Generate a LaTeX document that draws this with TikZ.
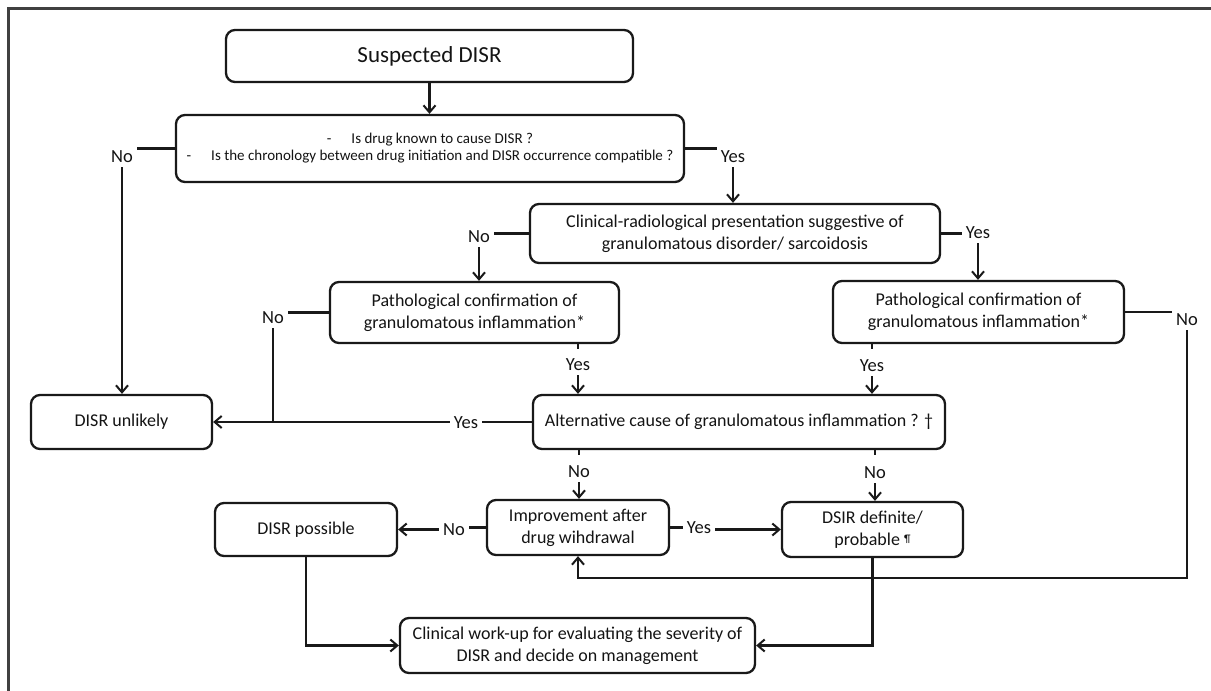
\documentclass[tikz,border=0pt]{standalone}
\usepackage{fontspec}
\setmainfont{Carlito}
\usetikzlibrary{arrows.meta}
\begin{document}
\begin{tikzpicture}[x=1pt,y=-1pt,
  box/.style={draw=black!90, line width=2.3pt, rounded corners=9pt, fill=white, align=center, inner sep=0pt, text=black!92, font=\fontsize{18}{22}\selectfont},
  lab/.style={inner sep=4pt, text=black!92, font=\fontsize{18.5}{20}\selectfont},
  ln/.style={draw=black!90, line width=2.2pt},
  arr/.style={ln, -{Straight Barb[length=7pt,width=12pt,line width=2pt]}}]
\useasboundingbox (0,0) rectangle (1211,691);
\fill[white] (0,0) rectangle (1211,691);
\draw[line width=3pt, black!75] (8,691) -- (8,8) -- (1211,8);

% boxes
\node[box, minimum width=407pt, minimum height=52pt, font=\fontsize{23}{27}\selectfont] (susp) at (429.5,56) {Suspected DISR};
\node[box, minimum width=508pt, minimum height=67pt, font=\fontsize{15}{17}\selectfont] (q) at (430,148.5) {-\hspace{20pt}Is drug known to cause DISR ?\\ -\hspace{20pt}Is the chronology between drug initiation and DISR occurrence compatible ?};
\node[box, minimum width=410pt, minimum height=59pt] (clin) at (735,233.5) {Clinical-radiological presentation suggestive of\\ granulomatous disorder/ sarcoidosis};
\node[box, minimum width=289pt, minimum height=61pt] (path1) at (474.5,312.5) {Pathological confirmation of\\ granulomatous inflammation*};
\node[box, minimum width=291pt, minimum height=62pt] (path2) at (978.5,312) {Pathological confirmation of\\ granulomatous inflammation*};
\node[box, minimum width=181pt, minimum height=54pt] (unl) at (121.5,422) {DISR unlikely};
\node[box, minimum width=412pt, minimum height=54pt] (alt) at (739,422) {Alternative cause of granulomatous inflammation ? †};
\node[box, minimum width=182pt, minimum height=53pt] (poss) at (306,529.5) {DISR possible};
\node[box, minimum width=182pt, minimum height=55pt] (imp) at (578,527.5) {Improvement after\\ drug wihdrawal};
\node[box, minimum width=181pt, minimum height=55pt] (dsir) at (872.5,529.5) {DSIR definite/\\ probable \raisebox{3pt}{\fontsize{11}{11}\selectfont ¶}};
\node[box, minimum width=355pt, minimum height=55pt] (work) at (577.5,645.5) {Clinical work-up for evaluating the severity of\\ DISR and decide on management};

% labels
\node[lab] (noA) at (122,157) {No};
\node[lab] (yesA) at (733,157) {Yes};
\node[lab] (noB) at (479,237) {No};
\node[lab] (yesB) at (978,233) {Yes};
\node[lab] (noC) at (273,318) {No};
\node[lab] (yesC) at (578,365) {Yes};
\node[lab] (noD) at (1187,320) {No};
\node[lab] (yesD) at (872,366) {Yes};
\node[lab] (yesE) at (466,423) {Yes};
\node[lab] (noE) at (579,472) {No};
\node[lab] (noF) at (875,473) {No};
\node[lab] (noG) at (454,530) {No};
\node[lab] (yesF) at (699,528) {Yes};
\coordinate (fb) at (578,578);

% connectors
\draw[arr] (susp.south) -- (susp.south |- q.north);
\draw[ln] (q.west) -- (q.west -| noA.east);
\draw[arr] (noA.south) -- (noA.south |- unl.north);
\draw[ln] (q.east) -- (q.east -| yesA.west);
\draw[arr] (yesA.south) -- (yesA.south |- clin.north);
\draw[ln] (clin.west) -- (clin.west -| noB.east);
\draw[arr] (noB.south) -- (noB.south |- path1.north);
\draw[ln] (clin.east) -- (clin.east -| yesB.west);
\draw[arr] (yesB.south) -- (yesB.south |- path2.north);
\draw[ln] (path1.west) -- (path1.west -| noC.east);
\draw[ln] (noC.south) -- (noC.south |- unl.east);
\draw[ln] (yesC |- path1.south) -- ++(0,5);
\draw[arr] (yesC.south) -- (yesC.south |- alt.north);
\draw[ln] (path2.east) -- (path2.east -| noD.west);
\draw[arr] (noD.south) |- (fb) -- (imp.south);
\draw[ln] (yesD |- path2.south) -- ++(0,5);
\draw[arr] (yesD.south) -- (yesD.south |- alt.north);
\draw[ln] (alt.west) -- (alt.west -| yesE.east);
\draw[arr] (yesE.west |- unl.east) -- (unl.east);
\draw[ln] (noE |- alt.south) -- ++(0,5);
\draw[ln] (noF |- alt.south) -- ++(0,5);
\draw[arr] (noE.south) -- (noE.south |- imp.north);
\draw[arr] (noF.south) -- (noF.south |- dsir.north);
\draw[ln] (imp.west) -- (imp.west -| noG.east);
\draw[arr] (noG.west |- poss.east) -- (poss.east);
\draw[ln] (imp.east) -- (imp.east -| yesF.west);
\draw[arr] (yesF.east |- dsir.west) -- (dsir.west);
\draw[arr] (dsir.south) |- (work.east);
\draw[arr] (poss.south) |- (work.west);
\end{tikzpicture}
\end{document}
